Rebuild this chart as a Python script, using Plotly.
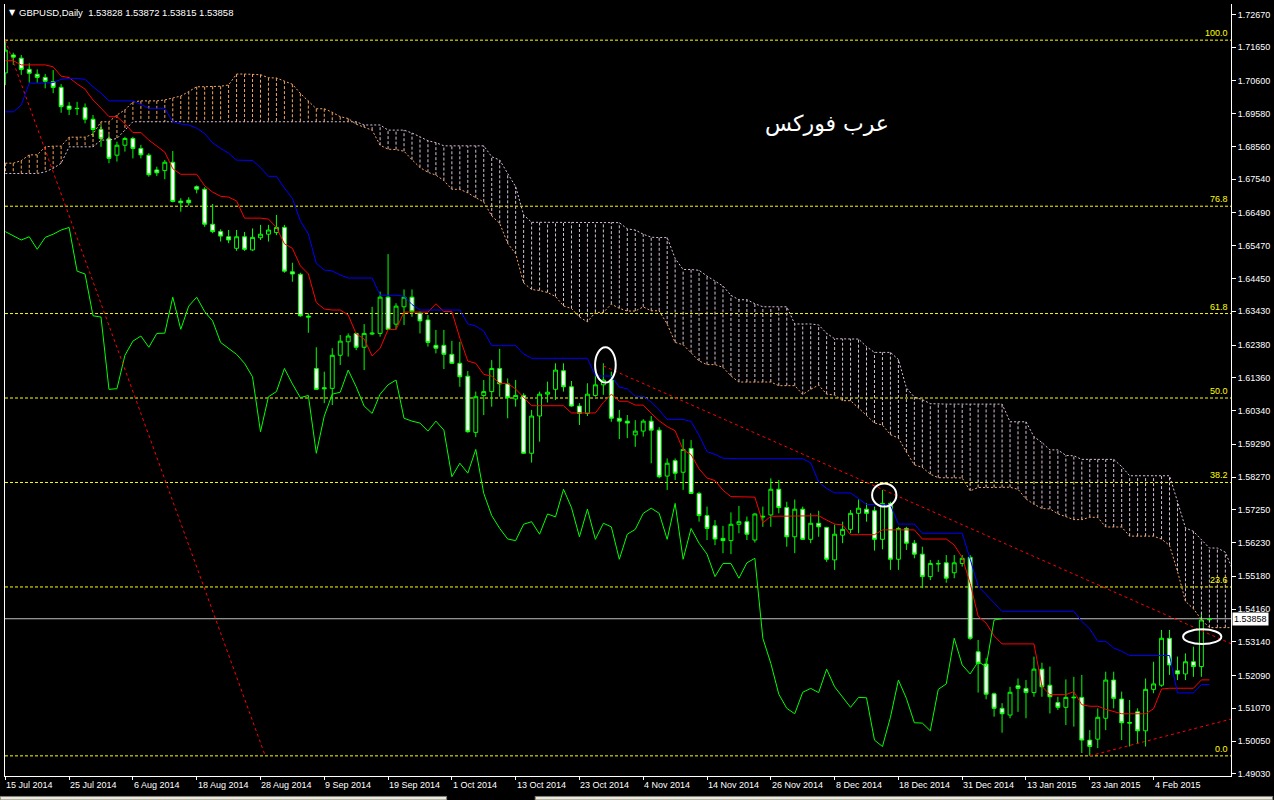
import numpy as np
import plotly.graph_objects as go

# ---------------- data ----------------
tick_bars = [0, 8, 16, 24, 32, 40, 48, 56, 64, 72, 80, 88, 96, 104, 112, 120, 128, 136, 144]
tick_labels = ["15 Jul 2014", "25 Jul 2014", "6 Aug 2014", "18 Aug 2014", "28 Aug 2014",
               "9 Sep 2014", "19 Sep 2014", "1 Oct 2014", "13 Oct 2014", "23 Oct 2014",
               "4 Nov 2014", "14 Nov 2014", "26 Nov 2014", "8 Dec 2014", "18 Dec 2014",
               "31 Dec 2014", "13 Jan 2015", "23 Jan 2015", "4 Feb 2015"]
price_ticks = [1.72670, 1.71650, 1.70600, 1.69580, 1.68560, 1.67540, 1.66490, 1.65470,
               1.64450, 1.63430, 1.62380, 1.61360, 1.60340, 1.59290, 1.58270, 1.57250,
               1.56230, 1.55180, 1.54160, 1.53140, 1.52090, 1.51070, 1.50050, 1.49030]

opens = [
    1.7085, 1.7141, 1.7131, 1.7096, 1.7081, 1.7071, 1.7058, 1.7040, 1.6982, 1.6975,
    1.6977, 1.6941, 1.6909, 1.6880, 1.6829, 1.6860, 1.6881, 1.6850, 1.6829, 1.6783,
    1.6781, 1.6807, 1.6686, 1.6689, 1.6731, 1.6723, 1.6614, 1.6591, 1.6575, 1.6539,
    1.6575, 1.6534, 1.6572, 1.6583, 1.6588, 1.6604, 1.6466, 1.6458, 1.6328, 1.6165,
    1.6105, 1.6103, 1.6206, 1.6248, 1.6274, 1.6231, 1.6272, 1.6274, 1.6387, 1.6303,
    1.6357, 1.6387, 1.6337, 1.6316, 1.6237, 1.6237, 1.6209, 1.6181, 1.6141, 1.5966,
    1.6081, 1.6093, 1.6165, 1.6117, 1.6070, 1.6081, 1.5901, 1.6017, 1.6085, 1.6100,
    1.6158, 1.6108, 1.6048, 1.6025, 1.6081, 1.6114, 1.6129, 1.6010, 1.6001, 1.5958,
    1.5970, 1.6001, 1.5973, 1.5830, 1.5878, 1.5842, 1.5916, 1.5776, 1.5707, 1.5675,
    1.5636, 1.5629, 1.5680, 1.5688, 1.5631, 1.5705, 1.5709, 1.5789, 1.5732, 1.5641,
    1.5727, 1.5633, 1.5683, 1.5670, 1.5569, 1.5646, 1.5664, 1.5714, 1.5727, 1.5722,
    1.5633, 1.5745, 1.5571, 1.5667, 1.5621, 1.5587, 1.5517, 1.5556, 1.5560, 1.5529,
    1.5558, 1.5577, 1.5283, 1.5245, 1.5152, 1.5107, 1.5086, 1.5177, 1.5169, 1.5156,
    1.5229, 1.5179, 1.5125, 1.5110, 1.5142, 1.5141, 1.5008, 1.5011, 1.5076, 1.5195,
    1.5136, 1.5063, 1.5096, 1.5037, 1.5166, 1.5179, 1.5325, 1.5224, 1.5214, 1.5252,
    1.5237, 1.53828]
highs = [
    1.7187, 1.7148, 1.7141, 1.7115, 1.7096, 1.7082, 1.7094, 1.7050, 1.6994, 1.6995,
    1.6990, 1.6954, 1.6923, 1.6892, 1.6871, 1.6886, 1.6886, 1.6861, 1.6835, 1.6793,
    1.6814, 1.6842, 1.6695, 1.6698, 1.6735, 1.6729, 1.6677, 1.6598, 1.6596, 1.6596,
    1.6590, 1.6601, 1.6612, 1.6612, 1.6643, 1.6612, 1.6494, 1.6463, 1.6337, 1.6231,
    1.6155, 1.6228, 1.6269, 1.6274, 1.6276, 1.6303, 1.6357, 1.6404, 1.6521, 1.6368,
    1.6411, 1.6411, 1.6342, 1.6331, 1.6285, 1.6285, 1.6251, 1.6248, 1.6157, 1.6093,
    1.6129, 1.6191, 1.6226, 1.6134, 1.6129, 1.6088, 1.6036, 1.6093, 1.6124, 1.6181,
    1.6181, 1.6126, 1.6057, 1.6119, 1.6145, 1.6181, 1.6155, 1.6036, 1.6020, 1.6004,
    1.6007, 1.6017, 1.5982, 1.5885, 1.5885, 1.5945, 1.5942, 1.5781, 1.5735, 1.5693,
    1.5675, 1.5717, 1.5737, 1.5704, 1.5714, 1.5735, 1.5823, 1.5818, 1.5750, 1.5757,
    1.5735, 1.5714, 1.5722, 1.5672, 1.5679, 1.5688, 1.5724, 1.5757, 1.5745, 1.5735,
    1.5787, 1.5750, 1.5672, 1.5672, 1.5631, 1.5610, 1.5569, 1.5569, 1.5584, 1.5584,
    1.5584, 1.5584, 1.5320, 1.5263, 1.5156, 1.5123, 1.5174, 1.5200, 1.5195, 1.5268,
    1.5249, 1.5237, 1.5143, 1.5197, 1.5205, 1.5211, 1.5039, 1.5107, 1.5221, 1.5221,
    1.5159, 1.5133, 1.5107, 1.5200, 1.5252, 1.5351, 1.5351, 1.5268, 1.5278, 1.5299,
    1.5403, 1.53872]
lows = [
    1.7047, 1.7110, 1.7079, 1.7055, 1.7055, 1.7037, 1.7022, 1.6961, 1.6954, 1.6954,
    1.6928, 1.6886, 1.6855, 1.6804, 1.6809, 1.6840, 1.6819, 1.6819, 1.6762, 1.6764,
    1.6754, 1.6682, 1.6653, 1.6672, 1.6710, 1.6606, 1.6586, 1.6560, 1.6555, 1.6531,
    1.6531, 1.6531, 1.6565, 1.6560, 1.6580, 1.6463, 1.6435, 1.6326, 1.6276, 1.6098,
    1.6057, 1.6051, 1.6176, 1.6202, 1.6222, 1.6160, 1.6269, 1.6264, 1.6285, 1.6287,
    1.6300, 1.6326, 1.6274, 1.6233, 1.6212, 1.6163, 1.6179, 1.6108, 1.5965, 1.5951,
    1.6020, 1.6046, 1.6077, 1.6010, 1.6046, 1.5899, 1.5872, 1.5937, 1.6059, 1.6067,
    1.6093, 1.6046, 1.5989, 1.6017, 1.6077, 1.6083, 1.5999, 1.5945, 1.5948, 1.5921,
    1.5953, 1.5870, 1.5823, 1.5787, 1.5818, 1.5787, 1.5774, 1.5688, 1.5631, 1.5615,
    1.5590, 1.5587, 1.5652, 1.5631, 1.5623, 1.5672, 1.5672, 1.5714, 1.5610, 1.5590,
    1.5631, 1.5621, 1.5641, 1.5563, 1.5538, 1.5621, 1.5652, 1.5652, 1.5688, 1.5598,
    1.5602, 1.5538, 1.5538, 1.5600, 1.5574, 1.5481, 1.5506, 1.5532, 1.5498, 1.5512,
    1.5548, 1.5320, 1.5156, 1.5135, 1.5081, 1.5031, 1.5076, 1.5096, 1.5076, 1.5143,
    1.5143, 1.5091, 1.5102, 1.5055, 1.5050, 1.4968, 1.4959, 1.4983, 1.5039, 1.5107,
    1.5008, 1.4988, 1.4998, 1.4988, 1.5154, 1.5174, 1.5211, 1.5195, 1.5195, 1.5205,
    1.5205, 1.53815]
closes = [
    1.7156, 1.7134, 1.7096, 1.7084, 1.7071, 1.7059, 1.7040, 1.6980, 1.6972, 1.6974,
    1.6941, 1.6909, 1.6881, 1.6819, 1.6860, 1.6881, 1.6850, 1.6830, 1.6768, 1.6774,
    1.6807, 1.6685, 1.6681, 1.6681, 1.6723, 1.6614, 1.6591, 1.6577, 1.6565, 1.6575,
    1.6536, 1.6573, 1.6583, 1.6596, 1.6604, 1.6468, 1.6459, 1.6329, 1.6325, 1.6100,
    1.6102, 1.6206, 1.6250, 1.6266, 1.6231, 1.6274, 1.6275, 1.6387, 1.6287, 1.6359,
    1.6387, 1.6342, 1.6313, 1.6246, 1.6228, 1.6209, 1.6181, 1.6139, 1.5968, 1.6077,
    1.6093, 1.6165, 1.6117, 1.6074, 1.6081, 1.5901, 1.6017, 1.6085, 1.6091, 1.6160,
    1.6108, 1.6048, 1.6025, 1.6085, 1.6114, 1.6129, 1.6010, 1.6001, 1.5995, 1.5970,
    1.6001, 1.5973, 1.5828, 1.5870, 1.5839, 1.5913, 1.5776, 1.5707, 1.5667, 1.5634,
    1.5629, 1.5680, 1.5688, 1.5649, 1.5712, 1.5703, 1.5789, 1.5732, 1.5641, 1.5727,
    1.5633, 1.5683, 1.5672, 1.5571, 1.5649, 1.5664, 1.5714, 1.5730, 1.5714, 1.5633,
    1.5745, 1.5571, 1.5667, 1.5621, 1.5587, 1.5517, 1.5558, 1.5558, 1.5512, 1.5560,
    1.5574, 1.5325, 1.5247, 1.5151, 1.5107, 1.5090, 1.5157, 1.5169, 1.5156, 1.5229,
    1.5174, 1.5143, 1.5110, 1.5141, 1.5140, 1.5008, 1.4988, 1.5079, 1.5195, 1.5138,
    1.5062, 1.5061, 1.5037, 1.5166, 1.5183, 1.5325, 1.5242, 1.5214, 1.5252, 1.5237,
    1.5382, 1.53858]

# Ichimoku values before enough history exists inside the window
tenkan_early = [1.7123, 1.7123, 1.7110, 1.7110, 1.7110, 1.7110, 1.7104, 1.7075]
kijun_early = [1.6964, 1.6964, 1.6985, 1.7053, 1.7053, 1.7053, 1.7055, 1.7065, 1.7068, 1.7068,
               1.7065, 1.7042, 1.7022, 1.6998, 1.6998, 1.6998, 1.6998, 1.6987, 1.6975, 1.6975,
               1.6975, 1.6933, 1.6926, 1.6923, 1.6913]
span_a_early = [1.6804, 1.6804, 1.6812, 1.6830, 1.6830, 1.6855, 1.6857, 1.6857, 1.6885, 1.6885,
                1.6885, 1.6895, 1.6933, 1.6933, 1.6954, 1.6970, 1.6995, 1.6998, 1.6998, 1.6998,
                1.7001, 1.7006, 1.7013, 1.7027, 1.7042, 1.7042]
span_b_early = [1.6772, 1.6772, 1.6772, 1.6772, 1.6772, 1.6777, 1.6788, 1.6804, 1.6855, 1.6855,
                1.6855, 1.6855, 1.6876, 1.6876, 1.6881, 1.6907, 1.6933, 1.6933, 1.6933, 1.6933,
                1.6933, 1.6933, 1.6933, 1.6933, 1.6933, 1.6933, 1.6933, 1.6933, 1.6933, 1.6933,
                1.6933, 1.6933, 1.6933, 1.6933, 1.6933, 1.6933, 1.6933, 1.6933, 1.6933, 1.6933,
                1.6933, 1.6933, 1.6933, 1.6933, 1.6933, 1.6923, 1.6923, 1.6923, 1.6907, 1.6907,
                1.6907, 1.6898, 1.6886, 1.6874, 1.6868, 1.6858, 1.6858, 1.6858, 1.6858, 1.6858,
                1.6858, 1.6824, 1.6814, 1.6772, 1.6731, 1.6643, 1.6620, 1.6620, 1.6620, 1.6620,
                1.6620, 1.6620, 1.6620, 1.6620, 1.6620, 1.6620, 1.6620]

fib_high, fib_low = 1.7187, 1.4959
fib_ratios = [0.0, 0.236, 0.382, 0.5, 0.618, 0.768, 1.0]
fib_labels = ["0.0", "23.6", "38.2", "50.0", "61.8", "76.8", "100.0"]
fib_diag_bars = [0, 32.6]
resist_bars, resist_prices = [75, 151], [1.6173, 1.5338]
support_bars, support_prices = [136, 151], [1.4959, 1.5056]
ellipses = [(73.96, 76.55, 1.6121, 1.6231),
            (108.7, 111.75, 1.5735, 1.5807),
            (147.7, 152.5, 1.5307, 1.5353)]
bid_price = 1.53858
header_text = "GBPUSD,Daily  1.53828 1.53872 1.53815 1.53858"
logo_text = "عرب فوركس"

# ---------------- indicators ----------------
n = len(closes)
bars = np.arange(n)
H = np.array(highs)
L = np.array(lows)
C = np.array(closes)

def mid(i, p):
    return (H[i - p + 1:i + 1].max() + L[i - p + 1:i + 1].min()) / 2

tenkan = np.array(tenkan_early + [mid(i, 9) for i in range(9 - 1, n)])
kijun = np.array(kijun_early + [mid(i, 26) for i in range(26 - 1, n)])
span_a = np.array(span_a_early + list((tenkan + kijun) / 2))
span_b = np.array(span_b_early + [mid(i, 52) for i in range(52 - 1, n)])
disp = np.arange(len(span_a))

SANDY = "#F4A460"
THISTLE = "#D8BFD8"
LIME = "#00FF00"
FONT = "Liberation Sans"

fig = go.Figure()

# cloud hatching
for col, cond in [(SANDY, span_a >= span_b), (THISTLE, span_a < span_b)]:
    xs, ys = [], []
    for d in disp[cond]:
        xs += [d, d, None]
        ys += [span_a[d], span_b[d], None]
    fig.add_trace(go.Scatter(x=xs, y=ys, mode="lines", hoverinfo="skip",
                             line=dict(color=col, width=1, dash="3px,2px")))
fig.add_trace(go.Scatter(x=disp, y=span_a, mode="lines", hoverinfo="skip",
                         line=dict(color=SANDY, width=1, dash="2px,2px")))
fig.add_trace(go.Scatter(x=disp, y=span_b, mode="lines", hoverinfo="skip",
                         line=dict(color=THISTLE, width=1, dash="2px,2px")))

# candles
fig.add_trace(go.Candlestick(
    x=bars, open=opens, high=highs, low=lows, close=closes,
    increasing=dict(line=dict(color=LIME, width=1), fillcolor="#000000"),
    decreasing=dict(line=dict(color=LIME, width=1), fillcolor="#FFFFFF"),
    whiskerwidth=0, hoverinfo="skip", showlegend=False))

fig.add_trace(go.Scatter(x=bars, y=tenkan, mode="lines", line=dict(color="#FF0000", width=1), hoverinfo="skip"))
fig.add_trace(go.Scatter(x=bars, y=kijun, mode="lines", line=dict(color="#0000FF", width=1), hoverinfo="skip"))
fig.add_trace(go.Scatter(x=bars[:n - 26], y=C[26:], mode="lines", line=dict(color=LIME, width=1), hoverinfo="skip"))

# trend lines
x_end = 160
for (b1, b2), (p1, p2) in [(resist_bars, resist_prices), (support_bars, support_prices)]:
    slope = (p2 - p1) / (b2 - b1)
    fig.add_trace(go.Scatter(x=[b1, x_end], y=[p1, p1 + slope * (x_end - b1)], mode="lines",
                             line=dict(color="#FF0000", width=1, dash="3px,3px"), hoverinfo="skip"))
fig.add_trace(go.Scatter(x=fib_diag_bars, y=[fib_high, fib_low], mode="lines",
                         line=dict(color="#FF0000", width=1, dash="3px,3px"), hoverinfo="skip"))

shapes = []
annotations = []
for r, lab in zip(fib_ratios, fib_labels):
    lvl = fib_low + r * (fib_high - fib_low)
    shapes.append(dict(type="line", xref="paper", x0=0, x1=1, yref="y", y0=lvl, y1=lvl,
                       line=dict(color="#FFFF00", width=1, dash="3px,2px"), layer="below"))
    annotations.append(dict(xref="paper", x=1, xanchor="right", xshift=-1, yref="y", y=lvl,
                            yanchor="bottom", text=lab, showarrow=False,
                            font=dict(color="#FFFF00", size=9, family=FONT)))
shapes.append(dict(type="line", xref="paper", x0=0, x1=1, yref="y", y0=bid_price, y1=bid_price,
                   line=dict(color="#C0C0C0", width=1), layer="below"))
for x0, x1, y0, y1 in ellipses:
    shapes.append(dict(type="circle", xref="x", yref="y", x0=x0, x1=x1, y0=y0, y1=y1,
                       line=dict(color="#FFFFFF", width=2)))

# bottom window tabs
shapes.append(dict(type="rect", xref="paper", yref="paper", x0=-0.004, x1=0.3602, y0=-0.0311, y1=-0.0265,
                   fillcolor="#ECE9D8", line=dict(color="#808080", width=1)))
shapes.append(dict(type="rect", xref="paper", yref="paper", x0=0.4325, x1=1.034, y0=-0.0311, y1=-0.0265,
                   fillcolor="#ECE9D8", line=dict(color="#808080", width=1)))

for b, lab in zip(tick_bars, tick_labels):
    annotations.append(dict(xref="x", x=b, xanchor="left", xshift=-1, yref="paper", y=0,
                            yanchor="top", yshift=-2, text=lab, showarrow=False,
                            font=dict(color="#FFFFFF", size=9, family=FONT)))

annotations.append(dict(xref="paper", x=1, xanchor="left", xshift=1, yref="y", y=bid_price,
                        yanchor="middle", text=f"{bid_price:.5f}", showarrow=False, bgcolor="#FFFFFF",
                        borderpad=1, font=dict(color="#000000", size=9, family=FONT)))
annotations.append(dict(xref="paper", x=0, xanchor="left", xshift=2, yref="paper", y=1,
                        yanchor="top", yshift=-2, text="▼", showarrow=False,
                        font=dict(color="#FFFFFF", size=8, family="DejaVu Sans")))
annotations.append(dict(xref="paper", x=0, xanchor="left", xshift=12, yref="paper", y=1,
                        yanchor="top", yshift=-1, text=header_text.replace(" ", "\u00a0"), showarrow=False,
                        font=dict(color="#FFFFFF", size=9.5, family=FONT)))
annotations.append(dict(xref="x", x=103.1, yref="y", y=1.6926, text=logo_text, showarrow=False,
                        font=dict(color="#FFFFFF", size=22, family="DejaVu Sans")))

fig.update_layout(
    width=1274, height=800,
    margin=dict(l=4, r=40, t=4, b=24),
    paper_bgcolor="#000000", plot_bgcolor="#000000",
    showlegend=False,
    shapes=shapes, annotations=annotations,
    xaxis=dict(range=[-0.04, 153.71], showgrid=False, zeroline=False, showline=True,
               linecolor="#FFFFFF", linewidth=1, ticks="outside", ticklen=3, tickcolor="#FFFFFF",
               tickvals=tick_bars, showticklabels=False, rangeslider=dict(visible=False), fixedrange=True),
    yaxis=dict(range=[1.48963, 1.72996], side="right", showgrid=False, zeroline=False, showline=True,
               mirror=True, linecolor="#FFFFFF", linewidth=1, ticks="outside", ticklen=4,
               tickcolor="#FFFFFF", tickvals=price_ticks, ticktext=[f"{v:.5f}" for v in price_ticks],
               tickfont=dict(color="#FFFFFF", size=9, family=FONT), fixedrange=True),
)

fig.write_html("out.html",
               config={"displayModeBar": False},
               post_script="document.body.style.margin='0px';document.body.style.overflow='hidden';"
                           "document.body.style.background='#000000';")
